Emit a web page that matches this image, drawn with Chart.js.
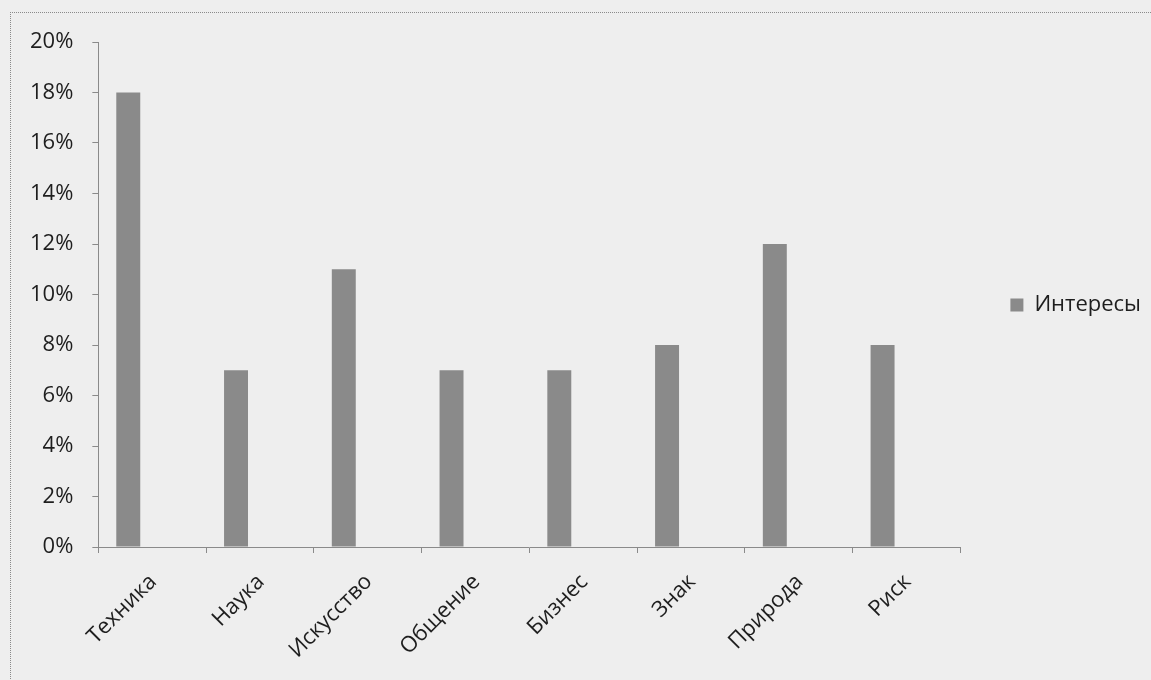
<!DOCTYPE html>
<html>
<head>
<meta charset="utf-8">
<script src="https://cdn.jsdelivr.net/npm/chart.js@4"></script>
<style>
  body { margin: 0; background: #eeeeee; }
  #wrap { position: relative; width: 1151px; height: 680px; overflow: hidden; }
  #frame { position: absolute; left: 10px; top: 12px; width: 1200px; height: 700px;
           border-left: 1px dotted #8a8a8a; border-top: 1px dotted #8a8a8a; pointer-events: none; }
</style>
</head>
<body>
<div id="wrap">
  <canvas id="myChart" width="1151" height="680"></canvas>
  <div id="frame"></div>
</div>
<script>
// Categories and values (percent)
const categories = ["Техника", "Наука", "Искусство", "Общение", "Бизнес", "Знак", "Природа", "Риск"];
const interests = [18, 7, 11, 7, 7, 8, 12, 8];
const yTicks = [0, 2, 4, 6, 8, 10, 12, 14, 16, 18, 20];

const font = { family: "'Open Sans', sans-serif", size: 22 };
const ink = '#1e1e1e';
const axisGrey = '#8a8a8a';

// empty series keep the bar in the left third of each category, like the original
const ctx = document.getElementById('myChart').getContext('2d');
const chart = new Chart(ctx, {
  type: 'bar',
  data: {
    labels: categories,
    datasets: [
      { label: 'Интересы', data: interests, backgroundColor: '#8a8a8a', borderWidth: 0 },
      { label: '', data: categories.map(() => null), backgroundColor: 'transparent' },
      { label: '', data: categories.map(() => null), backgroundColor: 'transparent' }
    ]
  },
  options: {
    responsive: false,
    animation: false,
    layout: { padding: { top: 42, left: 11, bottom: 0, right: 0 } },
    datasets: { bar: { categoryPercentage: 0.667, barPercentage: 1 } },
    plugins: {
      tooltip: { enabled: false },
      legend: {
        position: 'right',
        align: 'start',
        // empty title only pushes the single item down to the middle of the plot
        title: { display: true, text: '', font: { size: 12, lineHeight: 1.2 }, padding: { top: 227.6, bottom: 0 } },
        labels: {
          filter: item => item.text !== '',
          font: font, color: ink,
          boxWidth: 13, boxHeight: 13,
          padding: 10
        }
      }
    },
    scales: {
      x: {
        grid: { drawOnChartArea: false, drawTicks: true, tickLength: 6, color: axisGrey, offset: true },
        border: { display: true, color: axisGrey },
        ticks: { font: font, color: ink, minRotation: 45, maxRotation: 45, labelOffset: 1, padding: 16 },
        afterFit: scale => { scale.height = 133; }
      },
      y: {
        min: 0, max: 20,
        afterBuildTicks: scale => { scale.ticks = yTicks.map(v => ({ value: v })); },
        grid: { drawOnChartArea: false, drawTicks: true, tickLength: 6, color: axisGrey },
        border: { display: true, color: axisGrey },
        ticks: { font: font, color: ink, padding: 19, callback: v => v + '%' }
      },
      // spacer between plot and legend
      gap: {
        position: 'right', display: true,
        grid: { display: false }, border: { display: false }, ticks: { display: false },
        afterFit: scale => { scale.width = 40; }
      }
    }
  }
});
</script>
</body>
</html>
